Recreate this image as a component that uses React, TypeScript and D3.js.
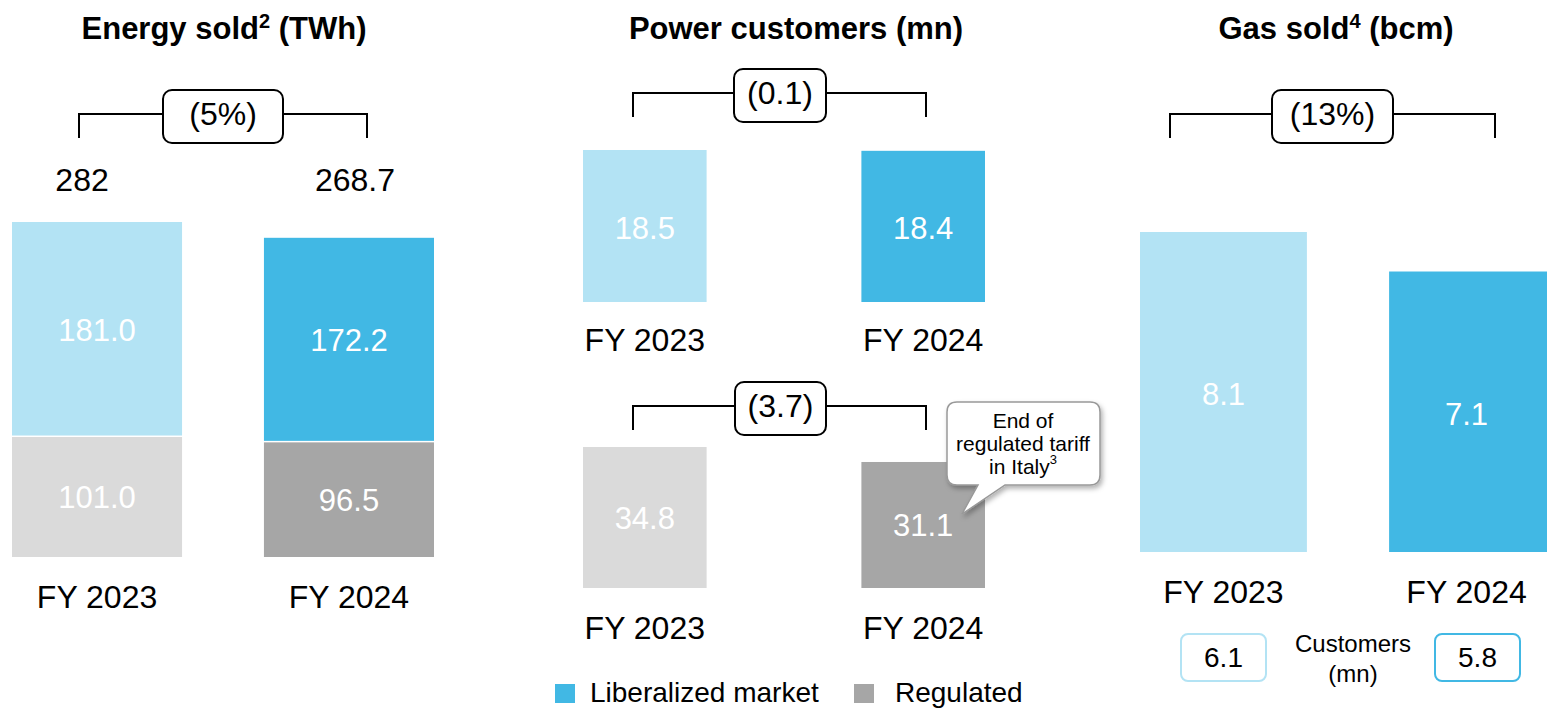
import React from "react";
import * as d3 from "d3";

const years = ["FY 2023", "FY 2024"];
const energyLiberalized = [181.0, 172.2];
const energyRegulated = [101.0, 96.5];
const energyTotals = ["282", "268.7"];
const energyChange = "(5%)";
const powerLiberalized = [18.5, 18.4];
const powerRegulated = [34.8, 31.1];
const powerLibChange = "(0.1)";
const powerRegChange = "(3.7)";
const gasSold = [8.1, 7.1];
const gasChange = "(13%)";
const gasCustomers = ["6.1", "5.8"];

const LIGHT_BLUE = "#b3e3f4";
const BLUE = "#41b8e4";
const LIGHT_GRAY = "#dadada";
const GRAY = "#a6a6a6";
const FONT = "Liberation Sans, Arial, sans-serif";
const VAL = 31;
const CAT = 32;
const DY = 3;

function Bracket({ x1, x2, y, boxX1, boxX2, label }: any) {
  const boxTop = y - 24, boxH = 53;
  return (
    <g>
      <path d={`M${x1},${y + 24}V${y}H${boxX1}M${boxX2},${y}H${x2}V${y + 24}`} fill="none" stroke="#000" strokeWidth={2} />
      <rect x={boxX1} y={boxTop} width={boxX2 - boxX1} height={boxH} rx={9} fill="#fff" stroke="#000" strokeWidth={2} />
      <text x={(boxX1 + boxX2) / 2} y={y + 3} textAnchor="middle" dominantBaseline="middle" fontSize={32}>{label}</text>
    </g>
  );
}

export default function App() {
  const xE = d3.scaleBand().domain(years).range([12, 434]).paddingInner(0.325);
  const yE = d3.scaleLinear().domain([0, 282]).range([557, 222]);
  const xP = d3.scaleBand().domain(years).range([583, 985]).paddingInner(0.556);
  const yPTop = d3.scaleLinear().domain([0, 18.5]).range([302, 150]);
  const yPBot = d3.scaleLinear().domain([0, 34.8]).range([588, 447]);
  const xG = d3.scaleBand().domain(years).range([1140, 1556]).paddingInner(0.33);
  const yG = d3.scaleLinear().domain([0, 8.1]).range([552, 232]);

  const libColors = [LIGHT_BLUE, BLUE];
  const regColors = [LIGHT_GRAY, GRAY];

  return (
    <svg width={1547} height={709} style={{ position: "absolute", left: 0, top: 0, fontFamily: FONT }} fontFamily={FONT}>
      <defs>
        <filter id="shadow" x="-20%" y="-20%" width="150%" height="150%">
          <feDropShadow dx={2} dy={3} stdDeviation={2.5} floodColor="#000" floodOpacity={0.3} />
        </filter>
      </defs>
      <rect width={1547} height={709} fill="#fff" />

      {/* Titles */}
      <text x={224} y={39} textAnchor="middle" fontSize={31} fontWeight="bold">
        Energy sold<tspan fontSize={20} dy={-11}>2</tspan><tspan dy={11}> (TWh)</tspan>
      </text>
      <text x={796} y={39} textAnchor="middle" fontSize={31} fontWeight="bold">Power customers (mn)</text>
      <text x={1336} y={39} textAnchor="middle" fontSize={31} fontWeight="bold">
        Gas sold<tspan fontSize={20} dy={-11}>4</tspan><tspan dy={11}> (bcm)</tspan>
      </text>

      {/* Energy panel */}
      <Bracket x1={79} x2={367} y={114} boxX1={163} boxX2={283} label={energyChange} />
      {years.map((yr, i) => {
        const x = xE(yr)!;
        const w = xE.bandwidth();
        const reg = energyRegulated[i];
        const lib = energyLiberalized[i];
        return (
          <g key={yr}>
            <rect x={x} y={yE(reg)} width={w} height={yE(0) - yE(reg)} fill={regColors[i]} />
            <rect x={x} y={yE(reg + lib)} width={w} height={yE(reg) - yE(reg + lib) - 1.5} fill={libColors[i]} />
            <text x={x + w / 2} y={(yE(reg) + yE(0)) / 2 + DY} textAnchor="middle" dominantBaseline="middle" fill="#fff" fontSize={VAL}>{reg.toFixed(1)}</text>
            <text x={x + w / 2} y={(yE(reg) + yE(reg + lib)) / 2 + DY} textAnchor="middle" dominantBaseline="middle" fill="#fff" fontSize={VAL}>{lib.toFixed(1)}</text>
            <text x={x + w / 2 + (i === 0 ? -15 : 6)} y={181 + 2} textAnchor="middle" dominantBaseline="middle" fontSize={CAT}>{energyTotals[i]}</text>
            <text x={x + w / 2} y={597 + DY} textAnchor="middle" dominantBaseline="middle" fontSize={CAT}>{yr}</text>
          </g>
        );
      })}

      {/* Power panel */}
      <Bracket x1={633} x2={926} y={93} boxX1={734} boxX2={826} label={powerLibChange} />
      <Bracket x1={633} x2={926} y={406} boxX1={735} boxX2={826} label={powerRegChange} />
      {years.map((yr, i) => {
        const x = xP(yr)!;
        const w = xP.bandwidth();
        const lib = powerLiberalized[i];
        const reg = powerRegulated[i];
        return (
          <g key={yr}>
            <rect x={x} y={yPTop(lib)} width={w} height={yPTop(0) - yPTop(lib)} fill={libColors[i]} />
            <text x={x + w / 2} y={(yPTop(0) + yPTop(18.5)) / 2 + 2 + DY} textAnchor="middle" dominantBaseline="middle" fill="#fff" fontSize={VAL}>{lib.toFixed(1)}</text>
            <text x={x + w / 2} y={340 + DY} textAnchor="middle" dominantBaseline="middle" fontSize={CAT}>{yr}</text>
            <rect x={x} y={yPBot(reg)} width={w} height={yPBot(0) - yPBot(reg)} fill={regColors[i]} />
            <text x={x + w / 2} y={(i === 0 ? 518 : 525) + DY} textAnchor="middle" dominantBaseline="middle" fill="#fff" fontSize={VAL}>{reg.toFixed(1)}</text>
            <text x={x + w / 2} y={628 + DY} textAnchor="middle" dominantBaseline="middle" fontSize={CAT}>{yr}</text>
          </g>
        );
      })}

      {/* Callout */}
      <g filter="url(#shadow)">
        <path
          d="M957,402 H1090 Q1100,402 1100,412 V475 Q1100,485 1090,485 H1005 L962,514 L978,485 H957 Q947,485 947,475 V412 Q947,402 957,402 Z"
          fill="#fff" stroke="#999" strokeWidth={1.5}
        />
      </g>
      <text x={1023} y={422} textAnchor="middle" dominantBaseline="middle" fontSize={21}>End of</text>
      <text x={1023} y={445} textAnchor="middle" dominantBaseline="middle" fontSize={21}>regulated tariff</text>
      <text x={1023} y={468} textAnchor="middle" dominantBaseline="middle" fontSize={21}>
        in Italy<tspan fontSize={13} dy={-7}>3</tspan>
      </text>

      {/* Legend */}
      <rect x={555} y={684} width={20} height={19} fill={BLUE} />
      <text x={590} y={695} dominantBaseline="middle" fontSize={28}>Liberalized market</text>
      <rect x={854} y={684} width={20} height={19} fill={GRAY} />
      <text x={895} y={695} dominantBaseline="middle" fontSize={28}>Regulated</text>

      {/* Gas panel */}
      <Bracket x1={1170} x2={1495} y={114} boxX1={1272} boxX2={1393} label={gasChange} />
      {years.map((yr, i) => {
        const x = xG(yr)!;
        const w = xG.bandwidth();
        const v = gasSold[i];
        return (
          <g key={yr}>
            <rect x={x} y={yG(v)} width={w} height={yG(0) - yG(v)} fill={libColors[i]} />
            <text x={x + w / 2 + (i === 1 ? -6 : 0)} y={(yG(0) + yG(v)) / 2 + 2 + DY} textAnchor="middle" dominantBaseline="middle" fill="#fff" fontSize={VAL}>{v.toFixed(1)}</text>
            <text x={x + w / 2 + (i === 1 ? -6 : 0)} y={592 + DY} textAnchor="middle" dominantBaseline="middle" fontSize={CAT}>{yr}</text>
            <rect x={i === 0 ? 1181 : 1435} y={634} width={85} height={47} rx={7} fill="#fff" stroke={libColors[i]} strokeWidth={2} />
            <text x={i === 0 ? 1223.5 : 1477.5} y={660} textAnchor="middle" dominantBaseline="middle" fontSize={28}>{gasCustomers[i]}</text>
          </g>
        );
      })}
      <text x={1353} y={646} textAnchor="middle" dominantBaseline="middle" fontSize={24}>Customers</text>
      <text x={1353} y={676} textAnchor="middle" dominantBaseline="middle" fontSize={24}>(mn)</text>
    </svg>
  );
}
